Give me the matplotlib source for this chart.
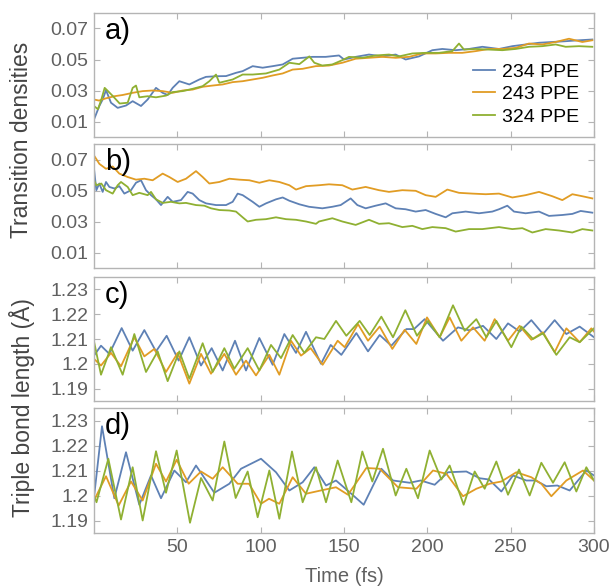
import numpy as np
import matplotlib
matplotlib.use('Agg')
import matplotlib.pyplot as plt

plt.rcParams['font.family'] = ['Liberation Sans', 'DejaVu Sans']

# Цвета серий
c_blue = '#5E81B5'
c_orange = '#E19C24'
c_green = '#8FB032'
labels = ['234 PPE', '243 PPE', '324 PPE']

# Панель a) - плотности переходов
ta_blue = [0, 3.2, 5.2, 7.2, 10.2, 14.2, 19.2, 23.2, 28.2, 32.2, 37.2, 41.2, 44.2, 47.2, 51.2, 57.2,
           63.2, 67.2, 73.2, 79.2, 85.2, 89.2, 95.2, 101.2, 107.2, 113.2, 119.2, 125.2, 131, 139, 147,
           150, 157, 165, 173, 181, 187, 195, 203, 209, 217, 225, 233, 243, 251, 259, 267, 275, 283,
           291, 299]
va_blue = [0.0113, 0.0200, 0.0242, 0.0302, 0.0221, 0.0188, 0.0203, 0.0231, 0.0200, 0.0242, 0.0317,
           0.0285, 0.0271, 0.0317, 0.0360, 0.0339, 0.0371, 0.0388, 0.0392, 0.0393, 0.0414, 0.0425,
           0.0457, 0.0447, 0.0457, 0.0468, 0.0505, 0.0511, 0.0517, 0.0517, 0.0526, 0.0500, 0.0517,
           0.0532, 0.0520, 0.0532, 0.0500, 0.0520, 0.0560, 0.0568, 0.0560, 0.0568, 0.0582, 0.0568,
           0.0586, 0.0597, 0.0608, 0.0613, 0.0618, 0.0624, 0.0629]
ta_orange = [0, 3, 7, 12.2, 17.2, 23.2, 29.2, 35.2, 41.2, 47.2, 53.2, 59.2, 65.2, 71.2, 77.2, 83.2,
             89.2, 95.2, 101.2, 107.2, 113.2, 119.2, 125.2, 133, 141, 149, 157, 165, 173, 181, 189,
             197, 205, 213, 221, 229, 237, 245, 253, 261, 269, 277, 285, 293, 299]
va_orange = [0.0242, 0.0235, 0.0249, 0.0263, 0.0271, 0.0285, 0.0296, 0.0300, 0.0296, 0.0285, 0.0300,
             0.0306, 0.0324, 0.0332, 0.0339, 0.0354, 0.0360, 0.0371, 0.0382, 0.0397, 0.0410, 0.0435,
             0.0440, 0.0457, 0.0461, 0.0479, 0.0505, 0.0511, 0.0517, 0.0511, 0.0517, 0.0539, 0.0539,
             0.0543, 0.0543, 0.0554, 0.0568, 0.0568, 0.0575, 0.0603, 0.0597, 0.0613, 0.0634, 0.0613,
             0.0624]
ta_green = [0, 2.4, 4.4, 6.4, 8.4, 11.4, 15.4, 20.2, 23.2, 25.2, 27.2, 32.2, 37.2, 43.2, 47.2, 53.2,
            59.2, 65.2, 69.2, 73.2, 75.2, 83.2, 89.2, 95.2, 103.2, 111.2, 117.2, 123.2, 129.2, 132.2,
            137, 143, 149, 153, 161, 169, 177, 183, 191, 199, 207, 215, 219, 222, 229, 237, 245, 253,
            261, 269, 277, 283, 291, 299]
va_green = [0.0200, 0.0179, 0.0242, 0.0317, 0.0296, 0.0263, 0.0216, 0.0221, 0.0317, 0.0332, 0.0256,
            0.0263, 0.0256, 0.0267, 0.0290, 0.0296, 0.0311, 0.0328, 0.0360, 0.0403, 0.0350, 0.0371,
            0.0403, 0.0403, 0.0410, 0.0435, 0.0479, 0.0470, 0.0520, 0.0479, 0.0461, 0.0468, 0.0496,
            0.0517, 0.0511, 0.0526, 0.0532, 0.0520, 0.0539, 0.0543, 0.0543, 0.0554, 0.0603, 0.0564,
            0.0568, 0.0564, 0.0560, 0.0568, 0.0582, 0.0586, 0.0597, 0.0582, 0.0586, 0.0582]

# Панель b)
tb_blue = [0, 1.4, 3.2, 5.2, 7.2, 9.2, 12.2, 15.2, 18.2, 22.2, 25.2, 28.2, 31.2, 34.2, 37.2, 40.2,
           44.2, 47.2, 52.2, 56.2, 59.2, 63.2, 67.2, 73.2, 79.2, 83.2, 86.2, 89.2, 95.2, 99.2, 103.2,
           109.2, 113.2, 117.2, 123.2, 129, 137, 143, 148, 154, 158, 163, 169, 175, 181, 187, 193,
           199, 205, 211, 215, 223, 231, 239, 243, 248, 252, 259, 267, 273, 281, 287, 292, 299]
vb_blue = [0.0640, 0.0502, 0.0545, 0.0491, 0.0555, 0.0523, 0.0513, 0.0528, 0.0480, 0.0502, 0.0550,
           0.0566, 0.0502, 0.0470, 0.0443, 0.0406, 0.0459, 0.0427, 0.0438, 0.0491, 0.0480, 0.0438,
           0.0417, 0.0406, 0.0406, 0.0427, 0.0480, 0.0470, 0.0427, 0.0395, 0.0417, 0.0443, 0.0455,
           0.0434, 0.0411, 0.0395, 0.0385, 0.0395, 0.0406, 0.0449, 0.0406, 0.0385, 0.0402, 0.0417,
           0.0385, 0.0379, 0.0364, 0.0374, 0.0349, 0.0327, 0.0353, 0.0364, 0.0353, 0.0364, 0.0379,
           0.0402, 0.0364, 0.0353, 0.0364, 0.0336, 0.0342, 0.0349, 0.0368, 0.0357]
tb_orange = [0, 3.2, 7.2, 11.2, 15.2, 20.2, 25.2, 30.2, 35.2, 41.2, 45.2, 50.2, 55.2, 61.2, 65.2,
             69.2, 75.2, 81.2, 87.2, 93.2, 99.2, 105.2, 111.2, 117.2, 121.2, 127.2, 135, 141, 149,
             155, 163, 171, 177, 185, 193, 199, 205, 212, 219, 227, 235, 243, 251, 259, 267, 275,
             281, 287, 293, 299]
vb_orange = [0.0726, 0.0672, 0.0640, 0.0655, 0.0609, 0.0587, 0.0570, 0.0576, 0.0566, 0.0609, 0.0587,
             0.0555, 0.0576, 0.0625, 0.0587, 0.0545, 0.0555, 0.0576, 0.0570, 0.0566, 0.0550, 0.0566,
             0.0555, 0.0534, 0.0506, 0.0528, 0.0534, 0.0540, 0.0534, 0.0506, 0.0523, 0.0502, 0.0491,
             0.0502, 0.0498, 0.0470, 0.0459, 0.0506, 0.0485, 0.0480, 0.0476, 0.0480, 0.0455, 0.0470,
             0.0491, 0.0463, 0.0438, 0.0476, 0.0463, 0.0449]
tb_green = [0, 1.4, 4.4, 7.2, 11.2, 14.2, 16.2, 20.2, 23.2, 27.2, 32.2, 34.2, 37.2, 41.2, 46.2, 51.2,
            55.2, 61.2, 66.2, 70.2, 75.2, 81.2, 85.2, 89.2, 92.2, 97.2, 103.2, 109.2, 115.2, 121.2,
            127.2, 133.2, 135, 143, 149, 157, 165, 171, 177, 185, 191, 197, 203, 211, 217, 225, 233,
            243, 251, 257, 263, 271, 279, 287, 293, 299]
vb_green = [0.0566, 0.0534, 0.0545, 0.0502, 0.0480, 0.0534, 0.0555, 0.0523, 0.0470, 0.0485, 0.0470,
            0.0491, 0.0443, 0.0420, 0.0427, 0.0417, 0.0420, 0.0406, 0.0402, 0.0385, 0.0374, 0.0371,
            0.0364, 0.0327, 0.0300, 0.0311, 0.0315, 0.0327, 0.0315, 0.0311, 0.0300, 0.0285, 0.0300,
            0.0321, 0.0300, 0.0278, 0.0311, 0.0285, 0.0289, 0.0264, 0.0272, 0.0251, 0.0264, 0.0257,
            0.0235, 0.0251, 0.0251, 0.0264, 0.0251, 0.0257, 0.0229, 0.0251, 0.0242, 0.0229, 0.0251,
            0.0242]

# Панель c) - длина тройной связи
tc_blue = [0, 4.2, 9.2, 16.6, 23.2, 30.2, 37.2, 43.6, 50.8, 57.2, 64.2, 70.6, 77.2, 84.6, 91.2, 99.2,
           107.2, 114.2, 121.2, 127.2, 136.2, 142, 148.4, 157.4, 164.4, 171.4, 178.4, 187.4, 192,
           198.4, 209.4, 218.4, 225, 233.4, 241.4, 248.4, 255.4, 262.4, 269.4, 276.4, 283.4, 291.4, 300]
vc_blue = [1.2033, 1.2073, 1.2040, 1.2144, 1.2053, 1.2136, 1.2050, 1.2113, 1.2013, 1.2107, 1.1993,
           1.2063, 1.1973, 1.2093, 1.1973, 1.2104, 1.1996, 1.2120, 1.2044, 1.2129, 1.2000, 1.2076,
           1.2036, 1.2124, 1.2050, 1.2116, 1.2073, 1.2140, 1.2140, 1.2180, 1.2093, 1.2147, 1.2135,
           1.2153, 1.2100, 1.2163, 1.2130, 1.2176, 1.2120, 1.2176, 1.2120, 1.2150, 1.2107]
tc_orange = [0, 4.2, 10.2, 16.2, 24.2, 30.2, 36.2, 43.2, 50.2, 57.2, 64.2, 70.2, 78.2, 85.2, 91.2,
             97.2, 105.2, 111.2, 118.2, 124.2, 130, 137.2, 146.2, 150.4, 158.4, 164.4, 171.4, 179,
             186.4, 193.4, 199.8, 207.4, 213.4, 220.4, 227.4, 234.4, 240.4, 248.4, 255.4, 262.4,
             269.4, 276.4, 283.4, 291.4, 298.4, 300]
vc_orange = [1.2020, 1.1993, 1.2044, 1.1990, 1.2107, 1.2030, 1.2060, 1.1967, 1.2044, 1.1920, 1.2040,
             1.1960, 1.2040, 1.1956, 1.2013, 1.1953, 1.2036, 1.1956, 1.2093, 1.2033, 1.2063, 1.1996,
             1.2093, 1.2067, 1.2160, 1.2093, 1.2150, 1.2060, 1.2137, 1.2080, 1.2187, 1.2107, 1.2187,
             1.2093, 1.2147, 1.2093, 1.2180, 1.2093, 1.2153, 1.2097, 1.2127, 1.2047, 1.2143, 1.2087,
             1.2143, 1.2130]
tc_green = [0, 4.2, 10.2, 17.2, 24.2, 31.2, 38.2, 44.2, 51.2, 57.2, 65.2, 71.2, 78.2, 84.2, 92.2,
            99.2, 106.2, 112.2, 119.2, 126.2, 133.2, 138.2, 145.2, 151.4, 159.4, 165.4, 172.4, 179.4,
            186.8, 193.8, 200.4, 207.4, 215.4, 222.4, 229.4, 235.4, 241.4, 250.4, 256.4, 263.4,
            269.4, 277.4, 285.4, 291.4, 300]
vc_green = [1.2090, 1.1956, 1.2067, 1.1956, 1.2120, 1.1967, 1.2050, 1.1930, 1.2050, 1.1940, 1.2083,
            1.1967, 1.2063, 1.1980, 1.2063, 1.1973, 1.2076, 1.2023, 1.2116, 1.2044, 1.2107, 1.2100,
            1.2173, 1.2113, 1.2173, 1.2116, 1.2190, 1.2107, 1.2216, 1.2113, 1.2173, 1.2107, 1.2236,
            1.2133, 1.2180, 1.2107, 1.2173, 1.2067, 1.2150, 1.2100, 1.2123, 1.2036, 1.2107, 1.2087,
            1.2143]

# Панель d)
td_blue = [0, 4.8, 12.2, 19.2, 27.2, 34.2, 40.2, 48.2, 55.2, 61.2, 72.2, 81.2, 88.2, 100.2, 109.2,
           117.2, 125.2, 132.2, 139.2, 145.2, 154.4, 161.8, 172.4, 179.4, 189.4, 196, 204.4, 212.4,
           223.4, 231.4, 237, 244.4, 251.4, 259.4, 265, 271.4, 278, 285.4, 295.4, 300]
vd_blue = [1.1993, 1.2277, 1.1989, 1.2173, 1.1963, 1.2080, 1.1989, 1.2100, 1.2053, 1.2120, 1.2011,
           1.2047, 1.2107, 1.2147, 1.2093, 1.2020, 1.2053, 1.2113, 1.2040, 1.2060, 1.2007, 1.1963,
           1.2107, 1.2060, 1.2051, 1.2060, 1.2043, 1.2093, 1.2096, 1.2069, 1.2064, 1.2016, 1.2080,
           1.2060, 1.2060, 1.2037, 1.2040, 1.2020, 1.2100, 1.2080]
td_orange = [0, 7.2, 14.8, 22.2, 29.2, 37.2, 43.2, 49.6, 56.8, 64.2, 71.2, 77.2, 86.2, 93, 100.2,
             105, 111.2, 119.2, 127.2, 136, 145.2, 152.4, 163.4, 171.4, 182.4, 193.4, 203.4, 211.4,
             221.4, 229.4, 237.4, 244.4, 253.4, 262.4, 268.4, 274.4, 283.4, 293.4, 300]
vd_orange = [1.1980, 1.2077, 1.1960, 1.2056, 1.1980, 1.2127, 1.2056, 1.2143, 1.2047, 1.2096, 1.2067,
             1.2113, 1.2047, 1.2047, 1.1967, 1.1987, 1.1967, 1.2073, 1.2007, 1.2020, 1.2033, 1.2003,
             1.2110, 1.2107, 1.2033, 1.2027, 1.2100, 1.2087, 1.1997, 1.2027, 1.2047, 1.2056, 1.2093,
             1.2073, 1.2047, 1.1997, 1.2060, 1.2100, 1.2060]
td_green = [0, 1.5, 8.6, 16.2, 23.2, 29.2, 37.2, 43.2, 49.6, 57.6, 64.2, 71.2, 78.2, 85, 92.2, 98.2,
            105.2, 111.2, 118.8, 125.2, 133.2, 139.2, 146.2, 154.4, 161, 167, 173.4, 181, 187.4,
            194.4, 201.4, 208.4, 213.4, 221.8, 228.4, 234.4, 241.4, 248.4, 255, 261.4, 268.4, 275.4,
            282.4, 289.4, 295.4, 300]
vd_green = [1.2000, 1.1973, 1.2147, 1.1904, 1.2113, 1.1900, 1.2177, 1.2011, 1.2180, 1.1891, 1.2070,
            1.1980, 1.2216, 1.1990, 1.2096, 1.1913, 1.2100, 1.1907, 1.2176, 1.1973, 1.2113, 1.1973,
            1.2140, 1.1973, 1.2176, 1.2056, 1.2187, 1.2000, 1.2107, 1.1989, 1.2180, 1.2064, 1.2120,
            1.1963, 1.2096, 1.2027, 1.2136, 1.2003, 1.2104, 1.2000, 1.2131, 1.2051, 1.2133, 1.2016,
            1.2113, 1.2060]

panels = [
    ('a)', [(ta_blue, va_blue), (ta_orange, va_orange), (ta_green, va_green)]),
    ('b)', [(tb_blue, vb_blue), (tb_orange, vb_orange), (tb_green, vb_green)]),
    ('c)', [(tc_blue, vc_blue), (tc_orange, vc_orange), (tc_green, vc_green)]),
    ('d)', [(td_blue, vd_blue), (td_orange, vd_orange), (td_green, vd_green)]),
]
colors = [c_blue, c_orange, c_green]

fig = plt.figure(figsize=(6.12, 5.88), dpi=100)
W, H = 612, 588
tops = [13, 144, 277, 408]
bottoms = [137, 268, 401, 533]
left, right = 94, 594

frame = '#b4b4b4'
tick_txt = '#606060'
axes = []
for i, (name, series) in enumerate(panels):
    ax = fig.add_axes([left / W, 1 - bottoms[i] / H, (right - left) / W, (bottoms[i] - tops[i]) / H])
    for (t, v), col, lab in zip(series, colors, labels):
        ax.plot(t, v, color=col, lw=1.3, label=lab, solid_joinstyle='round')
    ax.set_xlim(0, 300)
    ax.set_xticks([50, 100, 150, 200, 250, 300])
    if i < 2:
        ax.set_ylim(0, 0.08)
        ax.set_yticks([0.01, 0.03, 0.05, 0.07])
        ax.set_yticklabels(['0.01', '0.03', '0.05', '0.07'])
    else:
        ax.set_ylim(1.185, 1.235)
        ax.set_yticks([1.19, 1.2, 1.21, 1.22, 1.23])
        ax.set_yticklabels(['1.19', '1.2', '1.21', '1.22', '1.23'])
    for s in ax.spines.values():
        s.set_color(frame)
        s.set_linewidth(1.0)
    ax.tick_params(direction='in', length=4, width=0.8, color=frame, labelcolor=tick_txt,
                   labelsize=14, top=True, right=True, pad=4)
    if i < 3:
        ax.tick_params(labelbottom=False)
    ax.text(0.022, 0.97, name, transform=ax.transAxes, fontsize=21, va='top', ha='left')
    axes.append(ax)

axes[0].legend(loc='lower right', bbox_to_anchor=(0.985, 0.03), frameon=False, fontsize=14,
               handlelength=1.1, handletextpad=0.35, labelspacing=0.25, borderaxespad=0)

axes[3].set_xlabel('Time (fs)', fontsize=14.5, color=tick_txt, labelpad=8)
fig.text(22 / W, 1 - 140 / H, 'Transition densities', rotation=90, fontsize=16.5, color='#454545',
         ha='center', va='center')
fig.text(22 / W, 1 - 408 / H, 'Triple bond length (Å)', rotation=90, fontsize=16.5, color='#454545',
         ha='center', va='center')

fig.savefig('out.png', dpi=100)
